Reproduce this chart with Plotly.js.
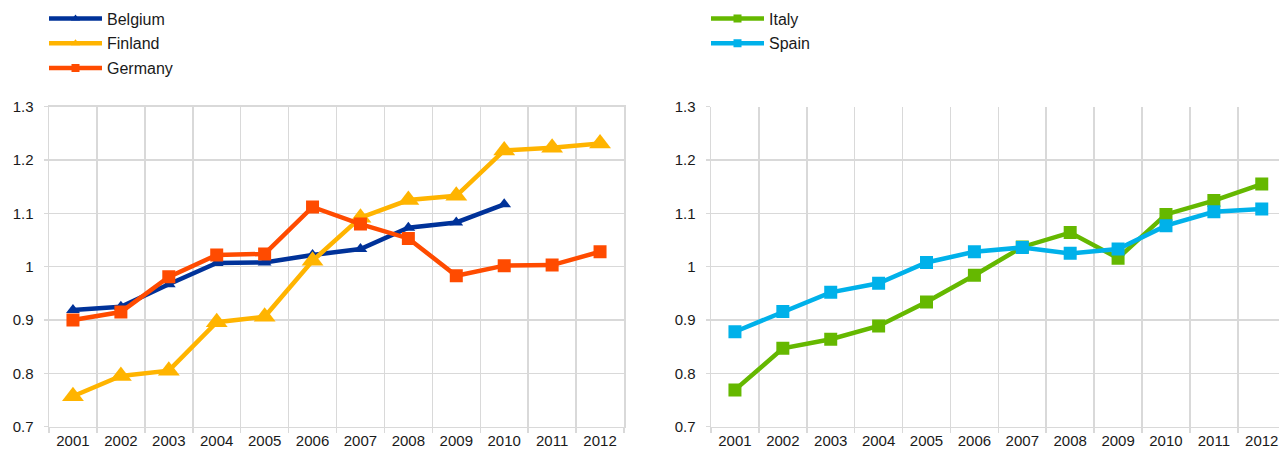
<!DOCTYPE html>
<html>
<head>
<meta charset="utf-8">
<script src="https://cdn.plot.ly/plotly-3.0.1.min.js"></script>
<style>html,body{margin:0;padding:0;background:#fff;}#chart{width:1279px;height:452px;}</style>
</head>
<body>
<div id="chart"></div>
<script>
const years = ["2001","2002","2003","2004","2005","2006","2007","2008","2009","2010","2011","2012"];
const belgium = [0.919, 0.925, 0.967, 1.007, 1.008, 1.022, 1.033, 1.073, 1.083, 1.117];
const finland = [0.757, 0.795, 0.805, 0.896, 0.906, 1.011, 1.092, 1.125, 1.133, 1.218, 1.223, 1.231];
const germany = [0.900, 0.915, 0.981, 1.022, 1.024, 1.112, 1.080, 1.053, 0.983, 1.002, 1.003, 1.028];
const italy   = [0.769, 0.847, 0.864, 0.889, 0.934, 0.984, 1.037, 1.064, 1.016, 1.098, 1.124, 1.155];
const spain   = [0.878, 0.916, 0.952, 0.969, 1.008, 1.028, 1.036, 1.025, 1.033, 1.077, 1.103, 1.108];
const yTicks = [0.7, 0.8, 0.9, 1, 1.1, 1.2, 1.3];
const yTickText = ["0.7", "0.8", "0.9", "1", "1.1", "1.2", "1.3"];

const FONT = "Liberation Sans, Arial, sans-serif";
const GRID = "#d9d9d9";
const TXT = "#1a1a1a";

function tr(name, y, color, symbol, size, xa, ya) {
  return {
    type: "scatter", mode: "lines+markers", name: name,
    x: years.slice(0, y.length), y: y,
    xaxis: xa, yaxis: ya, showlegend: false,
    line: {color: color, width: 4.5},
    marker: {color: color, symbol: symbol, size: size}
  };
}
// legend-only entries (no data) so the legend symbols can be small, as in the original
function leg(name, color, symbol, xa, ya, legend) {
  return {
    type: "scatter", mode: "lines+markers", name: name,
    x: [null], y: [null], xaxis: xa, yaxis: ya,
    legend: legend, legendgroup: name, showlegend: true, hoverinfo: "skip",
    line: {color: color, width: 4.5},
    marker: {color: color, symbol: symbol, size: 8}
  };
}

const data = [
  tr("Belgium", belgium, "#003299", "triangle-up", 12, "x", "y"),
  tr("Finland", finland, "#FFB400", "triangle-up", 19, "x", "y"),
  tr("Germany", germany, "#FF4B00", "square", 13, "x", "y"),
  tr("Italy", italy, "#65B800", "square", 13, "x2", "y2"),
  tr("Spain", spain, "#00B1EA", "square", 13, "x2", "y2"),
  leg("Belgium", "#003299", "triangle-up", "x", "y", "legend"),
  leg("Finland", "#FFB400", "triangle-up", "x", "y", "legend"),
  leg("Germany", "#FF4B00", "square", "x", "y", "legend"),
  leg("Italy", "#65B800", "square", "x2", "y2", "legend2"),
  leg("Spain", "#00B1EA", "square", "x2", "y2", "legend2")
];

const W = 1279, H = 452;
function xAxis(domain, range, mirror) {
  return {
    type: "category", domain: domain, range: range, tickson: "boundaries",
    showgrid: true, gridcolor: GRID, gridwidth: 1.5,
    ticks: "outside", ticklen: 5, tickcolor: GRID, tickwidth: 1.5,
    showline: true, linecolor: GRID, linewidth: 1.5, mirror: mirror,
    tickfont: {family: FONT, size: 15, color: TXT},
    automargin: false, fixedrange: true
  };
}
function yAxis(anchor, mirror) {
  return {
    anchor: anchor, domain: [(H - 426.7) / H, (H - 106.7) / H], range: [0.7, 1.3],
    tickvals: yTicks, ticktext: yTickText,
    showgrid: true, gridcolor: GRID, gridwidth: 1.5, zeroline: false,
    ticks: "outside", ticklen: 4, tickcolor: GRID, tickwidth: 1.5,
    showline: true, linecolor: GRID, linewidth: 1.5, mirror: mirror,
    ticklabelstandoff: 7,
    tickfont: {family: FONT, size: 15, color: TXT},
    automargin: false, fixedrange: true
  };
}

const layout = {
  width: W, height: H,
  margin: {l: 0, r: 0, t: 0, b: 0},
  paper_bgcolor: "#fff", plot_bgcolor: "#fff",
  font: {family: FONT, size: 15, color: TXT},
  showlegend: true,
  xaxis: xAxis([49 / W, 624 / W], [-0.5, 11.5], true),
  yaxis: yAxis("x", true),
  xaxis2: xAxis([711 / W, 1], [-0.5, 11.36], false),
  yaxis2: yAxis("x2", false),
  legend: {x: 44 / W, y: 1 - 1.5 / H, xanchor: "left", yanchor: "top", orientation: "v",
    itemwidth: 53, tracegroupgap: 1, bgcolor: "rgba(0,0,0,0)",
    font: {family: FONT, size: 16, color: TXT}},
  legend2: {x: 706 / W, y: 1 - 1.5 / H, xanchor: "left", yanchor: "top", orientation: "v",
    itemwidth: 53, tracegroupgap: 1, bgcolor: "rgba(0,0,0,0)",
    font: {family: FONT, size: 16, color: TXT}}
};

Plotly.newPlot("chart", data, layout, {displayModeBar: false, staticPlot: true});
</script>
</body>
</html>
